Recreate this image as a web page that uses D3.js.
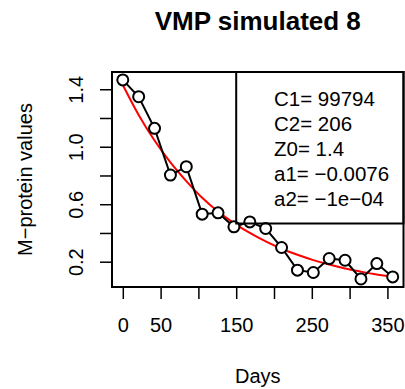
<!DOCTYPE html>
<html>
<head>
<meta charset="utf-8">
<script src="https://cdn.jsdelivr.net/npm/d3@7"></script>
<style>
  html, body { margin: 0; padding: 0; background: #fff; }
  svg { display: block; font-family: "Liberation Sans", Arial, Helvetica, sans-serif; }
</style>
</head>
<body>
<svg id="chart" width="405" height="389"></svg>
<script>
// ---- data ----
const days = [0, 21, 42, 63, 84, 105, 126, 147, 168, 189, 210, 231, 252, 273, 294, 315, 336, 357];
const mprotein = [1.465, 1.348, 1.128, 0.803, 0.861, 0.531, 0.540, 0.443, 0.477, 0.431,
                  0.299, 0.141, 0.125, 0.222, 0.210, 0.080, 0.187, 0.094];
const fitted = [1.430, 1.221, 1.043, 0.891, 0.761, 0.645, 0.549, 0.469, 0.400, 0.341,
                0.290, 0.248, 0.211, 0.180, 0.153, 0.131, 0.111, 0.095];
const xTicks = [0, 50, 100, 150, 200, 250, 300, 350];
const xTickLabels = ["0", "50", "", "150", "", "250", "", "350"];
const yTicks = [0.2, 0.4, 0.6, 0.8, 1.0, 1.2, 1.4];
const yTickLabels = ["0.2", "", "0.6", "", "1.0", "", "1.4"];
const legendLines = ["C1= 99794", "C2= 206", "Z0= 1.4", "a1= \u22120.0076", "a2= \u22121e\u221204"];
const titleText = "VMP simulated 8";
const xTitle = "Days";
const yTitle = "M\u2212protein values";

// ---- layout ----
const box = { left: 112, right: 403.5, top: 72, bottom: 287 };
const svg = d3.select("#chart");
svg.append("rect").attr("width", 405).attr("height", 389).attr("fill", "#fff");

const x = d3.scaleLinear().domain([-14.28, 371.28]).range([box.left, box.right]);
const y = d3.scaleLinear().domain([0.024, 1.52]).range([box.bottom, box.top]);

// axes
const xAxis = svg.append("g")
  .attr("transform", `translate(0,${box.bottom})`)
  .call(d3.axisBottom(x).tickValues(xTicks).tickSize(12)
        .tickFormat((d, i) => xTickLabels[i]));
xAxis.select(".domain").remove();
xAxis.selectAll(".tick line").attr("stroke", "#000").attr("stroke-width", 1.5);
xAxis.selectAll(".tick text")
  .attr("y", 45).attr("dy", null)
  .attr("font-size", 20).attr("fill", "#000")
  .attr("font-family", "Liberation Sans, Arial, sans-serif");

const yAxis = svg.append("g")
  .attr("transform", `translate(${box.left},0)`)
  .call(d3.axisLeft(y).tickValues(yTicks).tickSize(12)
        .tickFormat((d, i) => yTickLabels[i]));
yAxis.select(".domain").remove();
yAxis.selectAll(".tick line").attr("stroke", "#000").attr("stroke-width", 1.5);
yAxis.selectAll(".tick text")
  .attr("x", null).attr("dy", null)
  .attr("transform", "translate(-29,0) rotate(-90)")
  .attr("text-anchor", "middle")
  .attr("font-size", 20).attr("fill", "#000")
  .attr("font-family", "Liberation Sans, Arial, sans-serif");

// fitted curve (red)
svg.append("path")
  .datum(days.map((d, i) => [d, fitted[i]]))
  .attr("fill", "none").attr("stroke", "#ff0000").attr("stroke-width", 2)
  .attr("d", d3.line().x(d => x(d[0])).y(d => y(d[1])).curve(d3.curveMonotoneX));

// observed line + circles
const obs = days.map((d, i) => [d, mprotein[i]]);
svg.append("path")
  .datum(obs)
  .attr("fill", "none").attr("stroke", "#000").attr("stroke-width", 2)
  .attr("d", d3.line().x(d => x(d[0])).y(d => y(d[1])));
svg.selectAll("circle.pt").data(obs).enter().append("circle")
  .attr("class", "pt")
  .attr("cx", d => x(d[0])).attr("cy", d => y(d[1])).attr("r", 5.5)
  .attr("fill", "#fff").attr("stroke", "#000").attr("stroke-width", 2);

// legend (topright, transparent background)
const legLeft = x(150);
const legBottom = 223.5;
svg.append("rect")
  .attr("x", legLeft).attr("y", box.top)
  .attr("width", box.right - legLeft).attr("height", legBottom - box.top)
  .attr("fill", "none").attr("stroke", "#000").attr("stroke-width", 2);
svg.append("g").selectAll("text").data(legendLines).enter().append("text")
  .attr("x", 274).attr("y", (d, i) => 105.5 + i * 25)
  .attr("font-size", 20.5).attr("fill", "#000")
  .text(d => d);

// plot box
svg.append("rect")
  .attr("x", box.left).attr("y", box.top)
  .attr("width", box.right - box.left).attr("height", box.bottom - box.top)
  .attr("fill", "none").attr("stroke", "#000").attr("stroke-width", 2);

// titles
svg.append("text").attr("x", (box.left + box.right) / 2).attr("y", 30)
  .attr("text-anchor", "middle").attr("font-size", 26).attr("font-weight", "bold")
  .text(titleText);
svg.append("text").attr("x", (box.left + box.right) / 2).attr("y", 383)
  .attr("text-anchor", "middle").attr("font-size", 20).text(xTitle);
svg.append("text")
  .attr("transform", `translate(32,${(box.top + box.bottom) / 2}) rotate(-90)`)
  .attr("text-anchor", "middle").attr("font-size", 20).text(yTitle);
</script>
</body>
</html>
